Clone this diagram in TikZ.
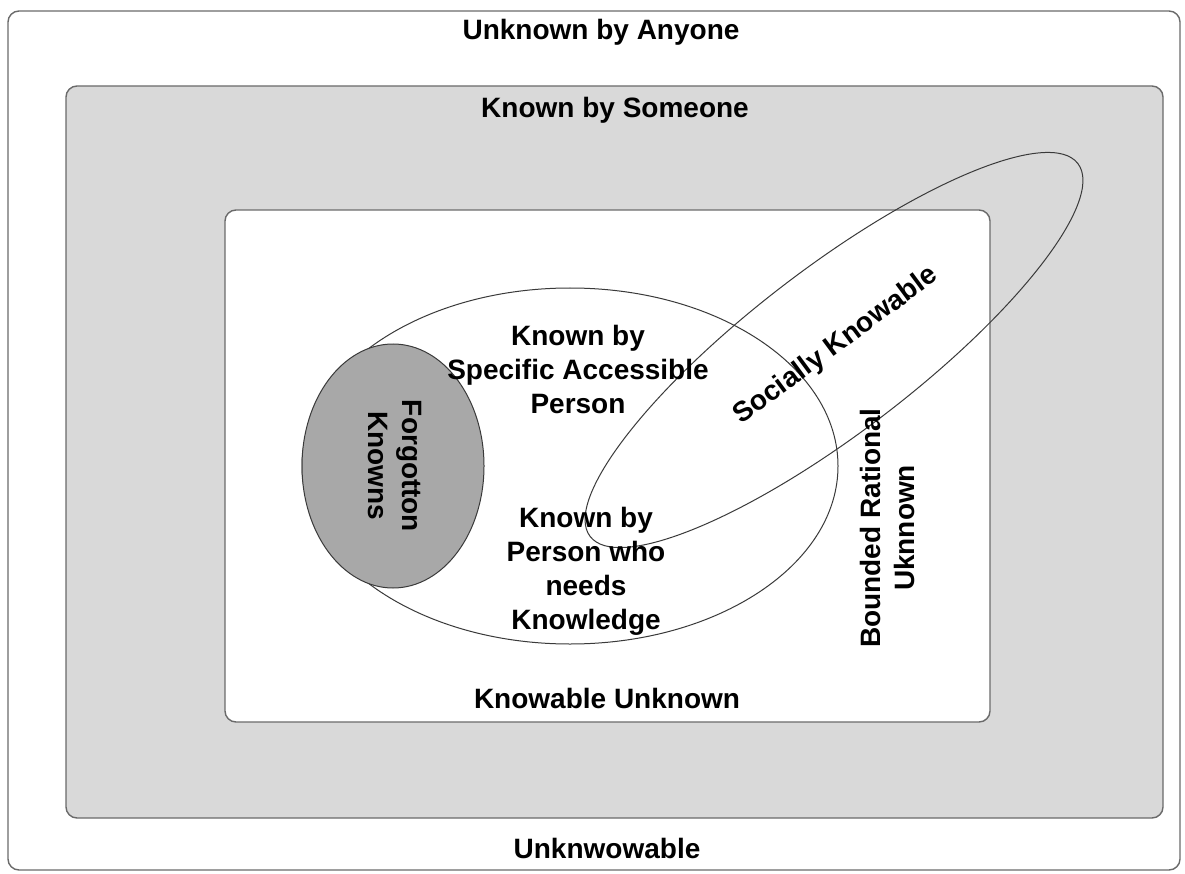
\documentclass[tikz,border=0pt]{standalone}
\usepackage{fontspec}
\setmainfont{Liberation Sans}
\usetikzlibrary{shapes.geometric}
\definecolor{framegray}{HTML}{6A6A6A}
\definecolor{bandgray}{HTML}{D9D9D9}
\definecolor{darkfill}{HTML}{A8A8A8}
\definecolor{linegray}{HTML}{3A3A3A}
\tikzset{
  frame/.style={draw=framegray, line width=1.4pt, rounded corners=11pt},
  ring/.style={draw=linegray, line width=1pt},
  lbl/.style={font=\bfseries\fontsize{28}{34}\selectfont, text=black, align=center, inner sep=0pt}
}
\begin{document}
\begin{tikzpicture}[x=1pt,y=-1pt]
\useasboundingbox (0,0) rectangle (1185,874);
% nested regions
\draw[frame, fill=white] (8,11) rectangle (1180,870);
\draw[frame, fill=bandgray] (66,86) rectangle (1163,818);
\draw[frame, fill=white] (225,210) rectangle (990,722);
% ellipses
\draw[ring] (570,466) ellipse [x radius=268pt, y radius=178pt];
\draw[ring, fill=darkfill] (393,466) ellipse [x radius=91pt, y radius=122pt];
\draw[ring] (834,350) ellipse [x radius=307pt, y radius=82pt, rotate=37.4];
% labels
\node[lbl] (anyone) at (601,32) {Unknown by Anyone};
\node[lbl] (someone) at (615,110) {Known by Someone};
\node[lbl] (knowable) at (607,698) {Knowable Unknown};
\node[lbl] (unknowable) at (607,848) {Unknwowable};
\node[lbl] (specific) at (578,369) {Known by\\Specific Accessible\\Person};
\node[lbl] (needs) at (586,571) {Known by\\Person who\\needs\\Knowledge};
\node[lbl, rotate=-90] (forgot) at (395,466) {Forgotton\\Knowns};
\node[lbl, rotate=90] (bounded) at (887,528) {Bounded Rational\\Uknnown};
\node[lbl, rotate=36.5] (social) at (836,346) {Socially Knowable};
\end{tikzpicture}
\end{document}
